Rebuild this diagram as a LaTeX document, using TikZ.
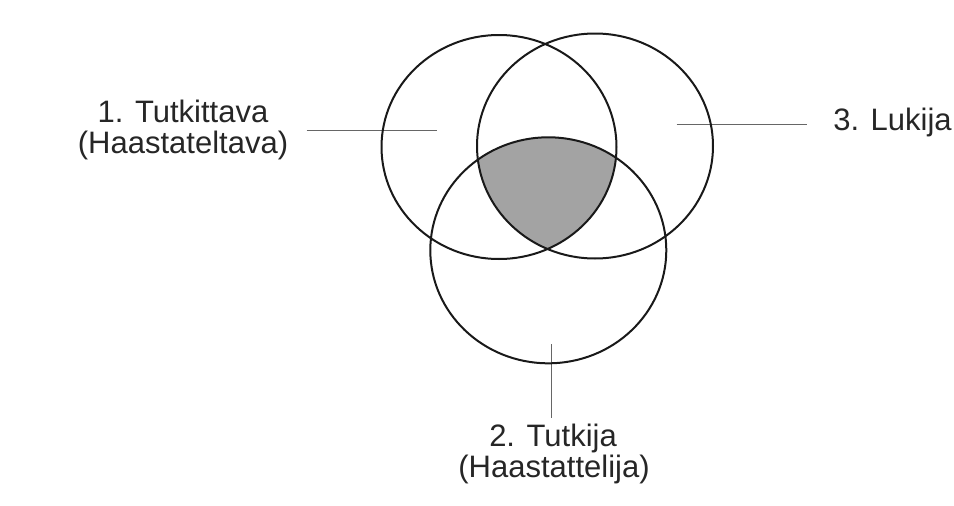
\documentclass[tikz,border=0pt]{standalone}
\usepackage{fontspec}
\setmainfont{Liberation Sans}
\begin{document}
\begin{tikzpicture}[x=1pt,y=-1pt,
  lab/.style={font=\fontsize{31}{36}\selectfont, text=black!85, inner sep=0pt, anchor=base},
  ring/.style={draw=black!90, line width=2pt},
  lead/.style={draw=black!60, line width=0.9pt}]
\useasboundingbox (0,0) rectangle (954,506);
% shaded triple intersection
\begin{scope}
  \clip (499,147) ellipse [x radius=117.5, y radius=112];
  \clip (595,146) ellipse [x radius=118, y radius=112.5];
  \fill[black!36] (548.3,250.3) ellipse [x radius=118, y radius=113];
\end{scope}
% leader lines
\coordinate (c1s) at (306.7,130);
\coordinate (c1e) at (436.7,130);
\coordinate (c3s) at (676.7,124.3);
\coordinate (c3e) at (806.7,124.3);
\coordinate (c2s) at (551,344);
\coordinate (c2e) at (551,418);
\draw[lead] (c1s) -- (c1e);
\draw[lead] (c3s) -- (c3e);
\draw[lead] (c2s) -- (c2e);
% circles
\draw[ring] (499,147) ellipse [x radius=117.5, y radius=112];
\draw[ring] (595,146) ellipse [x radius=118, y radius=112.5];
\draw[ring] (548.3,250.3) ellipse [x radius=118, y radius=113];
% labels
\node[lab] (t1a) at (183,122) {1. Tutkittava};
\node[lab] (t1b) at (183,153) {(Haastateltava)};
\node[lab] (t3) at (892.5,130.5) {3. Lukija};
\node[lab] (t2a) at (553,446) {2. Tutkija};
\node[lab] (t2b) at (554,477) {(Haastattelija)};
\end{tikzpicture}
\end{document}
